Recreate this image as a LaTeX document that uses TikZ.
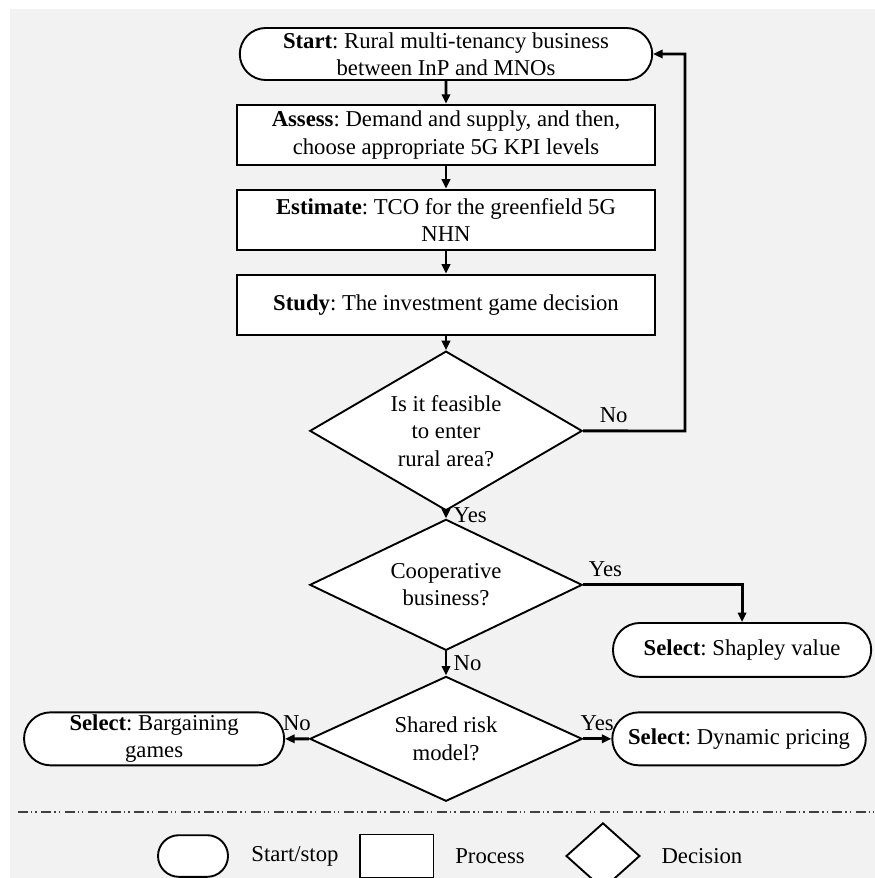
\documentclass[tikz,border=0pt]{standalone}
\usepackage{fontspec}
\setmainfont{Liberation Serif}
\usetikzlibrary{shapes.geometric, shapes.misc, positioning, arrows.meta}
\frenchspacing

\definecolor{panelgray}{HTML}{F2F2F2}
\definecolor{rulegray}{HTML}{404040}

\tikzset{
    terminal/.style={rounded rectangle, draw, fill=white, line width=1pt,
        align=center, inner sep=1pt},
    process/.style={rectangle, draw, fill=white, line width=1pt,
        minimum width=221pt, minimum height=32pt, align=center, inner sep=1pt},
    decision/.style={diamond, draw, fill=white, line width=1pt,
        minimum width=144pt, minimum height=66pt, inner sep=-3pt, align=center},
    flow/.style={->, line width=1.5pt},
}

\begin{document}
\begin{tikzpicture}[x=0.5286pt, y=-0.5286pt, on grid,
        >={Triangle[length=5pt,width=4.4pt]},
        font=\fontsize{12}{14.5}\selectfont]
    \useasboundingbox (0,0) rectangle (875,878);
    \fill[panelgray] (10,9) rectangle (875,878);

    % main column
    \node[terminal, minimum width=220pt, minimum height=27.5pt] (start) at (446,54)
        {\textbf{Start}: Rural multi-tenancy business\\between InP and MNOs};
    \node[process] (assess) [below=42.8pt of start]
        {\textbf{Assess}: Demand and supply, and then,\\choose appropriate 5G KPI levels};
    \node[process] (estimate) [below=44.9pt of assess]
        {\textbf{Estimate}: TCO for the greenfield 5G\\NHN};
    \node[process] (study) [below=44.9pt of estimate]
        {\textbf{Study}: The investment game decision};
    \node[decision] (feasible) [below=66.6pt of study]
        {Is it feasible\\to enter\\rural area?};
    \node[decision] (coop) [below=81.4pt of feasible]
        {Cooperative\\business?};
    \node[decision] (risk) [below=81.4pt of coop]
        {Shared risk\\model?};

    % outcomes
    \node[terminal, minimum width=138.5pt, minimum height=28.5pt] (shapley)
        [below right=34.4pt and 156.5pt of coop] {\textbf{Select}: Shapley value};
    \node[terminal, minimum width=139.5pt, minimum height=28pt] (bargain)
        [left=154.3pt of risk] {\textbf{Select}: Bargaining\\games};
    \node[terminal, minimum width=136pt, minimum height=28pt] (dynamic)
        [right=154.9pt of risk] {\textbf{Select}: Dynamic pricing};
    \coordinate (back) at (685,431);

    \path[flow]
    (start) edge (assess)
    (assess) edge (estimate)
    (estimate) edge (study)
    (study) edge (feasible)
    (feasible) edge node[right, pos=0.6] {Yes} (coop)
    (coop) edge node[right] {No} (risk)
    (risk) edge node[above] {No} (bargain)
    (risk) edge node[above] {Yes} (dynamic);
    \draw[flow] (feasible.east) -- node[above, pos=0.3] {No} (back) |- (start.east);
    \draw[flow] (coop.east) -| node[above, pos=0.07] {Yes} (shapley.north);

    % legend
    \draw[rulegray, line width=0.8pt,
        dash pattern=on 5.3pt off 1.6pt on 0.7pt off 1.6pt on 0.7pt off 2.4pt]
        (18,812) -- (875,812);
    \node[terminal, minimum width=39pt, minimum height=22pt] (keyterm) at (193,856) {};
    \node (keytermtext) [right=53.9pt of keyterm] {Start/stop};
    \node[process, minimum width=38.6pt, minimum height=22.7pt] (keyproc)
        [right=53.9pt of keytermtext] {};
    \node (keyproctext) [right=49.2pt of keyproc] {Process};
    \node[decision, minimum width=39pt, minimum height=35pt] (keydec)
        [right=59.7pt of keyproctext] {};
    \node (keydectext) [right=52.3pt of keydec] {Decision};
\end{tikzpicture}
\end{document}
